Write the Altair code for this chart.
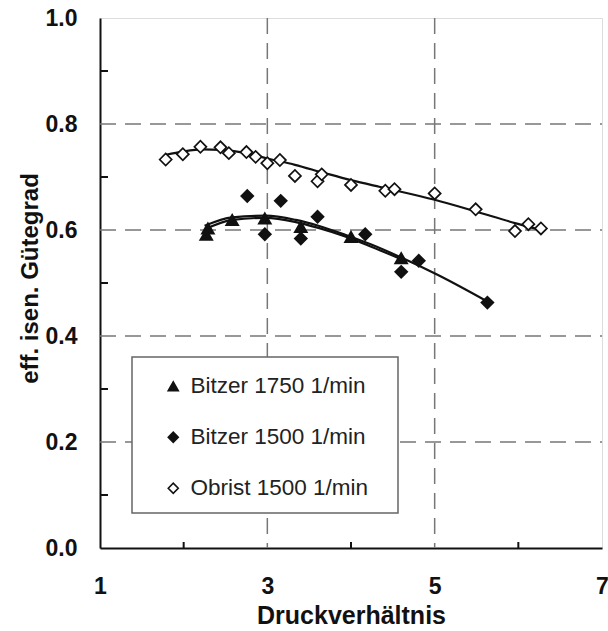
import altair as alt
import pandas as pd

# ---- data ----
series_names = ["Bitzer 1750 1/min", "Bitzer 1500 1/min", "Obrist 1500 1/min"]

b1750_x = [2.27, 2.29, 2.58, 2.97, 3.40, 4.00, 4.60]
b1750_y = [0.591, 0.603, 0.619, 0.622, 0.606, 0.587, 0.547]

b1500_x = [2.76, 2.97, 3.16, 3.40, 3.60, 4.17, 4.60, 4.81, 5.63]
b1500_y = [0.664, 0.592, 0.655, 0.584, 0.625, 0.592, 0.521, 0.542, 0.463]

obr_x = [1.785, 1.99, 2.20, 2.44, 2.54, 2.75, 2.86, 3.00, 3.15, 3.33, 3.60, 3.65,
         4.00, 4.41, 4.52, 5.00, 5.49, 5.96, 6.12, 6.27]
obr_y = [0.733, 0.743, 0.757, 0.756, 0.745, 0.747, 0.738, 0.726, 0.732, 0.702, 0.692, 0.705,
         0.685, 0.674, 0.677, 0.669, 0.639, 0.598, 0.611, 0.603]

# fitted curves as drawn in the picture
fit_obr_x = [1.79, 1.99, 2.23, 2.44, 2.75, 3.00, 3.33, 3.65, 4.00, 4.41, 5.00, 5.49, 5.96, 6.27]
fit_obr_y = [0.742, 0.748, 0.752, 0.751, 0.745, 0.735, 0.723, 0.709, 0.694, 0.679, 0.657, 0.635, 0.613, 0.600]

fit_b1500_x = [2.25, 2.58, 2.98, 3.34, 3.61, 3.93, 4.25, 4.60, 5.04, 5.63]
fit_b1500_y = [0.608, 0.624, 0.627, 0.619, 0.608, 0.591, 0.572, 0.548, 0.515, 0.465]

fit_b1750_x = [2.25, 2.58, 2.98, 3.34, 3.61, 3.93, 4.25, 4.60]
fit_b1750_y = [0.601, 0.619, 0.623, 0.615, 0.604, 0.588, 0.568, 0.545]

x_labels = [1, 3, 5, 7]
y_labels = [0.0, 0.2, 0.4, 0.6, 0.8, 1.0]
x_grid = [3, 5]
y_grid = [0.2, 0.4, 0.6, 0.8]
x_minor = [2, 4, 6]
y_minor = [0.1, 0.3, 0.5, 0.7, 0.9]

# ---- tables ----
pts = pd.concat([
    pd.DataFrame({"x": b1750_x, "y": b1750_y, "s": series_names[0]}),
    pd.DataFrame({"x": b1500_x, "y": b1500_y, "s": series_names[1]}),
    pd.DataFrame({"x": obr_x, "y": obr_y, "s": series_names[2]}),
], ignore_index=True)

fits = pd.concat([
    pd.DataFrame({"x": fit_b1750_x, "y": fit_b1750_y, "f": "b1750"}),
    pd.DataFrame({"x": fit_b1500_x, "y": fit_b1500_y, "f": "b1500"}),
    pd.DataFrame({"x": fit_obr_x, "y": fit_obr_y, "f": "obr"}),
], ignore_index=True)

W, H = 502, 530
FONT = "Liberation Sans"

xs = alt.Scale(domain=[1, 7], nice=False, zero=False)
ys = alt.Scale(domain=[0, 1], nice=False, zero=False)

x_enc = alt.X("x:Q", scale=xs, axis=alt.Axis(
    title="Druckverhältnis", values=x_labels, format="d", grid=False,
    ticks=False, tickSize=0, labelFlush=False, labelPadding=27,
    labelFont=FONT, labelFontSize=23, labelFontWeight="bold", labelColor="#111",
    titleFont=FONT, titleFontSize=25, titleFontWeight="bold", titleColor="#111",
    titleBaseline="alphabetic", titleY=75,
    domainColor="#111", domainWidth=2))
y_enc = alt.Y("y:Q", scale=ys, axis=alt.Axis(
    title="eff. isen. Gütegrad", values=y_labels, format=".1f", grid=False,
    ticks=False, tickSize=0, labelFlush=False, labelPadding=23,
    labelFont=FONT, labelFontSize=23, labelFontWeight="bold", labelColor="#111",
    titleFont=FONT, titleFontSize=24, titleFontWeight="bold", titleColor="#111",
    titleBaseline="alphabetic", titleX=-63, titleY=260, titleAngle=-90,
    domainColor="#111", domainWidth=2))

dash = [16, 9]
gridx = alt.Chart(pd.DataFrame({"x": x_grid})).mark_rule(
    color="#777", strokeWidth=1.5, strokeDash=dash).encode(
    x=alt.X("x:Q", scale=xs), y=alt.value(0), y2=alt.value(H))
gridy = alt.Chart(pd.DataFrame({"y": y_grid})).mark_rule(
    color="#777", strokeWidth=1.5, strokeDash=dash).encode(
    y=alt.Y("y:Q", scale=ys), x=alt.value(0), x2=alt.value(W))
tickx = alt.Chart(pd.DataFrame({"x": x_minor})).mark_rule(
    color="#111", strokeWidth=2).encode(
    x=alt.X("x:Q", scale=xs), y=alt.value(H), y2=alt.value(H - 6))
ticky = alt.Chart(pd.DataFrame({"y": y_minor})).mark_rule(
    color="#111", strokeWidth=2).encode(
    y=alt.Y("y:Q", scale=ys), x=alt.value(0), x2=alt.value(8))

legend_box = alt.Chart(pd.DataFrame({"a": [0]})).mark_rect(
    fill="white", stroke="#666", strokeWidth=1.5).encode(
    x=alt.value(32), x2=alt.value(298), y=alt.value(339), y2=alt.value(495))

lines = alt.Chart(fits).mark_line(color="#111", strokeWidth=2.2, interpolate="monotone").encode(
    x=alt.X("x:Q", scale=xs), y=alt.Y("y:Q", scale=ys), detail="f:N")

shape_scale = alt.Scale(domain=series_names, range=["triangle-up", "diamond", "diamond"])
fill_scale = alt.Scale(domain=series_names, range=["#111", "#111", "white"])
stroke_scale = alt.Scale(domain=series_names, range=["#111", "#111", "#111"])

legend = alt.Legend(title=None, orient="none", legendX=62, legendY=357,
                    padding=0, labelFont=FONT, labelFontSize=22.5, labelColor="#222",
                    labelLimit=400, labelOffset=6, rowPadding=28, symbolSize=100,
                    symbolStrokeWidth=1.6)

points = alt.Chart(pts).mark_point(size=145, strokeWidth=1.7, opacity=1).encode(
    x=x_enc, y=y_enc,
    shape=alt.Shape("s:N", scale=shape_scale, legend=legend),
    fill=alt.Fill("s:N", scale=fill_scale, legend=legend),
    stroke=alt.Stroke("s:N", scale=stroke_scale, legend=legend),
)

chart = alt.layer(gridx, gridy, tickx, ticky, legend_box, lines, points).properties(
    width=W, height=H,
    autosize=alt.AutoSizeParams(type="none"),
    padding={"left": 100, "top": 18, "right": 6, "bottom": 83},
).configure_view(stroke="#111", strokeWidth=2).configure(background="white")

chart.save("out.html", embed_options={"renderer": "svg", "actions": False})
